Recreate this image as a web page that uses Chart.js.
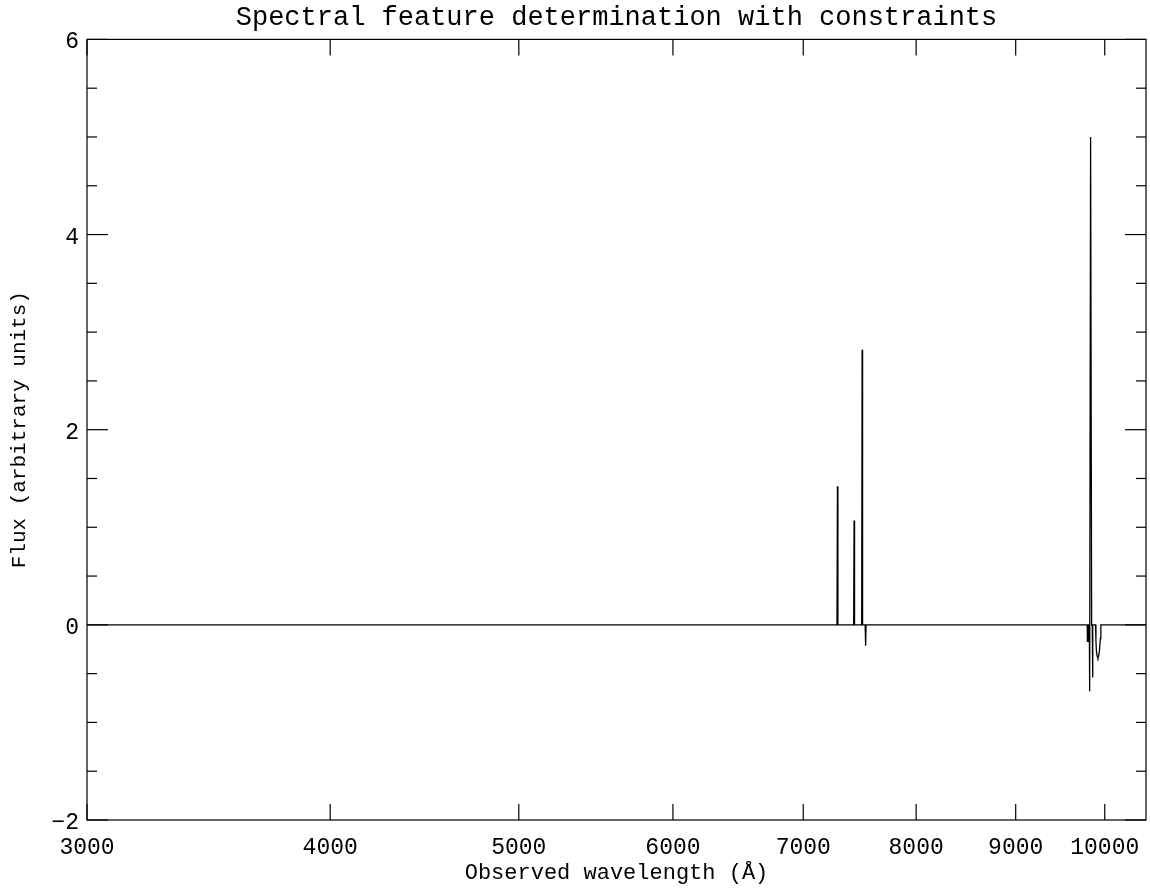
<!DOCTYPE html>
<html>
<head>
<meta charset="utf-8">
<script src="https://cdn.jsdelivr.net/npm/chart.js@4/dist/chart.umd.min.js"></script>
<style>
  html, body { margin: 0; padding: 0; background: #fff; }
</style>
</head>
<body>
<canvas id="spectrum" width="1150" height="888"></canvas>
<script>
// observed wavelength (Angstrom) and flux
const wavelength = [
  3000,
  7285, 7289, 7293,
  7430, 7434, 7438,
  7501, 7505, 7509,
  7532, 7536, 7540,
  9795, 9797, 9810, 9812,
  9819, 9823, 9834, 9846,
  9853, 9857, 9861,
  9892, 9896, 9902, 9910, 9919, 9928, 9938, 9948, 9954,
  10500
]
const flux = [
  0,
  0, 1.42, 0,
  0, 1.07, 0,
  0, 2.82, 0,
  0, -0.215, 0,
  0, -0.17, -0.17, 0,
  0, -0.68, 5.0, 0,
  0, -0.54, 0,
  0, -0.16, -0.27, -0.32, -0.34, -0.32, -0.26, -0.14, 0,
  0
]

const xTicks = [3000, 4000, 5000, 6000, 7000, 8000, 9000, 10000]
const yTicks = [-2, 0, 2, 4, 6]
const yMinorTicks = [-1.5, -1, -0.5, 0.5, 1, 1.5, 2.5, 3, 3.5, 4.5, 5, 5.5]

const FONT = "'Liberation Mono', 'DejaVu Sans Mono', monospace"

// inward ticks on all four sides + frame, like the original plot
const frameTicks = {
  id: 'frameTicks',
  afterDatasetsDraw(chart) {
    const { ctx, chartArea, scales } = chart
    const { left, right, top, bottom } = chartArea
    ctx.save()
    ctx.strokeStyle = '#000'
    ctx.lineWidth = 1.2
    ctx.strokeRect(left, top, right - left, bottom - top)
    const seg = (x1, y1, x2, y2) => {
      ctx.beginPath(); ctx.moveTo(x1, y1); ctx.lineTo(x2, y2); ctx.stroke()
    }
    xTicks.forEach(v => {
      const px = scales.x.getPixelForValue(v)
      seg(px, bottom, px, bottom - 16)
      seg(px, top, px, top + 16)
    })
    yTicks.forEach(v => {
      const py = scales.y.getPixelForValue(v)
      seg(left, py, left + 21, py)
      seg(right, py, right - 21, py)
    })
    yMinorTicks.forEach(v => {
      const py = scales.y.getPixelForValue(v)
      seg(left, py, left + 10, py)
      seg(right, py, right - 10, py)
    })
    ctx.restore()
  }
}

const ctx = document.getElementById('spectrum').getContext('2d')

new Chart(ctx, {
  type: 'line',
  data: {
    datasets: [{
      data: wavelength.map((w, i) => ({ x: w, y: flux[i] })),
      borderColor: '#000',
      borderWidth: 1.3,
      pointRadius: 0,
      tension: 0,
      fill: false
    }]
  },
  options: {
    responsive: false,
    animation: false,
    layout: {
      padding: { top: 0, right: 4, bottom: 0, left: 0 }
    },
    plugins: {
      legend: { display: false },
      tooltip: { enabled: false },
      title: {
        display: true,
        fullSize: false,
        text: 'Spectral feature determination with constraints',
        color: '#000',
        font: { family: FONT, size: 27, weight: 'normal' },
        padding: { top: 2, bottom: 5 }
      }
    },
    scales: {
      x: {
        type: 'logarithmic',
        min: 3000,
        max: 10500,
        afterBuildTicks: (scale) => {
          scale.ticks = xTicks.map(v => ({ value: v }))
        },
        afterFit: (scale) => {
          scale.height = 68
          scale.paddingLeft = 0
          scale.paddingRight = 0
        },
        grid: { display: false, drawTicks: false },
        border: { display: false },
        ticks: {
          autoSkip: false,
          maxRotation: 0,
          padding: 14,
          color: '#000',
          font: { family: FONT, size: 23 },
          callback: (v) => String(v)
        },
        title: {
          display: true,
          text: 'Observed wavelength (Å)',
          color: '#000',
          font: { family: FONT, size: 22 },
          padding: { top: 0, bottom: 2 }
        }
      },
      y: {
        min: -2,
        max: 6,
        afterBuildTicks: (scale) => {
          scale.ticks = yTicks.map(v => ({ value: v }))
        },
        afterFit: (scale) => { scale.width = 87 },
        grid: { display: false, drawTicks: false },
        border: { display: false },
        ticks: {
          padding: 8,
          labelOffset: 3,
          color: '#000',
          font: { family: FONT, size: 23 },
          callback: (v) => v < 0 ? '\u2212' + Math.abs(v) : String(v)
        },
        title: {
          display: true,
          text: 'Flux (arbitrary units)',
          color: '#000',
          font: { family: FONT, size: 21 },
          padding: { top: 7, bottom: 0 }
        }
      }
    }
  },
  plugins: [frameTicks]
})
</script>
</body>
</html>
